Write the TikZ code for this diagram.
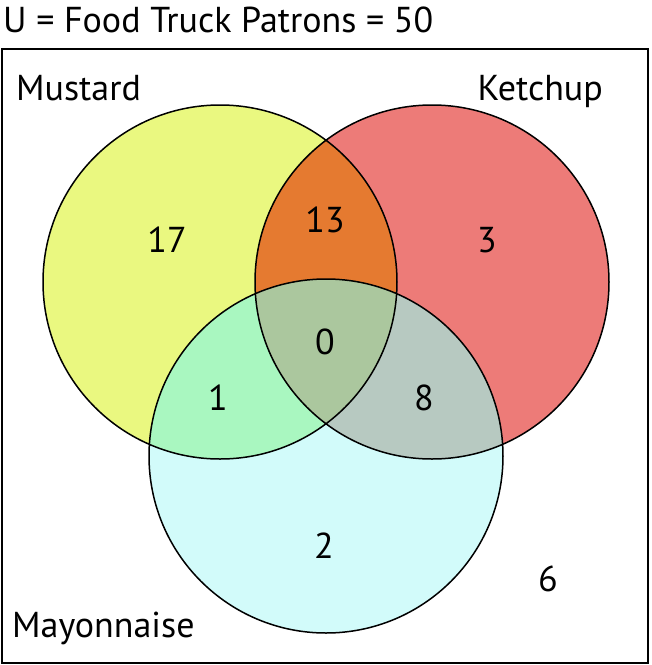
\documentclass[tikz,border=0pt]{standalone}
\usepackage{fontspec}
\setmainfont{PT Sans}
\usepackage{tikz}
\usetikzlibrary{positioning}
\definecolor{mustardfill}{RGB}{234,248,128}
\definecolor{ketchupfill}{RGB}{237,123,120}
\definecolor{mayofill}{RGB}{210,251,250}
\definecolor{mkfill}{RGB}{229,122,48}
\definecolor{myfill}{RGB}{169,247,192}
\definecolor{kyfill}{RGB}{183,201,193}
\definecolor{allfill}{RGB}{171,199,158}

\begin{document}
\begin{tikzpicture}[x=1pt,y=-1pt,
    txt/.style={font=\fontsize{36}{42}\selectfont,inner sep=0pt}]
    \useasboundingbox (0,0) rectangle (652,665);
    % Centres
    \coordinate (mus) at (220,282);
    \coordinate (ket) at (432,282);
    \coordinate (may) at (326,456);
    \def\rad{177}

    % Universe
    \draw[line width=2pt] (2,49) rectangle (648,663);

    % Single sets
    \fill[mustardfill] (mus) circle (\rad);
    \fill[ketchupfill] (ket) circle (\rad);
    \fill[mayofill] (may) circle (\rad);

    % Pairwise overlaps
    \begin{scope}
        \clip (mus) circle (\rad);
        \fill[mkfill] (ket) circle (\rad);
        \fill[myfill] (may) circle (\rad);
    \end{scope}
    \begin{scope}
        \clip (ket) circle (\rad);
        \fill[kyfill] (may) circle (\rad);
    \end{scope}

    % Triple overlap
    \begin{scope}
        \clip (mus) circle (\rad);
        \clip (ket) circle (\rad);
        \fill[allfill] (may) circle (\rad);
    \end{scope}

    % Outlines
    \draw[line width=1.5pt] (mus) circle (\rad) (ket) circle (\rad) (may) circle (\rad);

    % Labels
    \node[txt,anchor=base west] (title) at (3,32) {U = Food Truck Patrons = 50};
    \node[txt,anchor=base west] (mustard) at (16,100) {Mustard};
    \node[txt,anchor=base east] (ketchup) at (603,100) {Ketchup};
    \node[txt,anchor=base west] (mayo) at (12,637) {Mayonnaise};

    % Counts
    \node[txt] (m) at (167,240) {17};
    \node[txt] (mk) at (325,220) {13};
    \node[txt] (k) at (487,240) {3};
    \node[txt] (mky) at (325,342) {0};
    \node[txt] (my) at (218,398) {1};
    \node[txt] (ky) at (424,398) {8};
    \node[txt] (y) at (324,546) {2};
    \node[txt] (none) at (548,579) {6};
\end{tikzpicture}
\end{document}
